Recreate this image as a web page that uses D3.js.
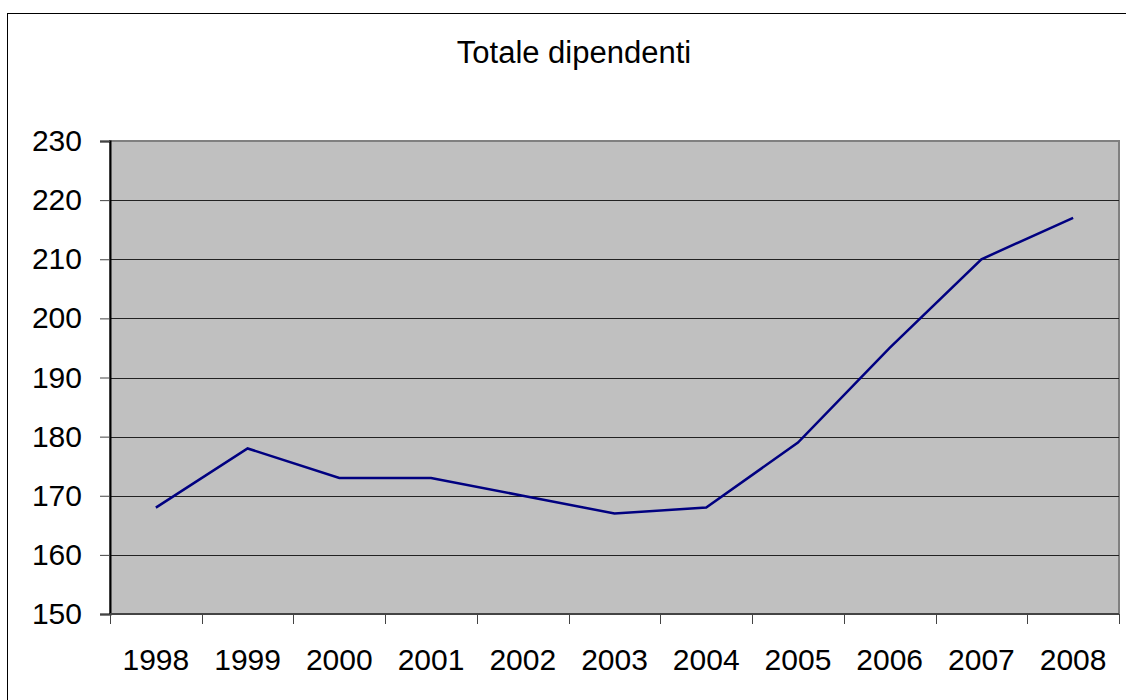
<!DOCTYPE html>
<html>
<head>
<meta charset="utf-8">
<script src="https://cdn.jsdelivr.net/npm/d3@7"></script>
<style>
  html, body { margin: 0; padding: 0; background: #fff; }
  svg { display: block; }
  text { font-family: "Liberation Sans", Arial, sans-serif; fill: #000; }
</style>
</head>
<body>
<svg id="chart" width="1126" height="700"></svg>
<script>
// Employee totals per year
const years = ["1998", "1999", "2000", "2001", "2002", "2003", "2004", "2005", "2006", "2007", "2008"];
const employees = [168, 178, 173, 173, 170, 167, 168, 179, 195, 210, 217];
const yTicks = [150, 160, 170, 180, 190, 200, 210, 220, 230];
const chartTitle = "Totale dipendenti";

const svg = d3.select("#chart");
const W = 1126, H = 700;
const plot = { left: 110, top: 141, right: 1119, bottom: 614 };
const labelSize = "30px";

// Outer chart frame
svg.append("rect")
  .attr("x", 7.5).attr("y", 13.5)
  .attr("width", W + 10).attr("height", H + 10)
  .attr("fill", "#fff").attr("stroke", "#000").attr("stroke-width", 1);

const x = d3.scaleBand().domain(years).range([plot.left, plot.right]);
const y = d3.scaleLinear().domain([150, 230]).range([plot.bottom, plot.top]);

// Plot area background
svg.append("rect")
  .attr("x", plot.left).attr("y", plot.top)
  .attr("width", plot.right - plot.left).attr("height", plot.bottom - plot.top)
  .attr("fill", "#c0c0c0")
  .attr("stroke", "#808080").attr("stroke-width", 2);

// Horizontal gridlines
svg.append("g")
  .selectAll("line")
  .data(yTicks.filter(t => t !== 150 && t !== 230))
  .join("line")
  .attr("x1", plot.left).attr("x2", plot.right)
  .attr("y1", d => Math.round(y(d)) + 0.5).attr("y2", d => Math.round(y(d)) + 0.5)
  .attr("stroke", "#222").attr("stroke-width", 1);

// Y axis
const yAxis = d3.axisLeft(y).tickValues(yTicks).tickSize(10).tickPadding(18);
const gy = svg.append("g")
  .attr("transform", `translate(${plot.left},0)`)
  .call(yAxis);
gy.select(".domain").attr("stroke", "#000").attr("stroke-width", 2);
gy.selectAll(".tick line").attr("stroke", "#444");
gy.selectAll(".tick text")
  .style("font-family", "'Liberation Sans', Arial, sans-serif")
  .style("font-size", labelSize).attr("fill", "#000");

// X axis with ticks at category boundaries
const gx = svg.append("g")
  .attr("transform", `translate(0,${plot.bottom})`);
gx.append("line")
  .attr("x1", plot.left).attr("x2", plot.right)
  .attr("y1", 0).attr("y2", 0)
  .attr("stroke", "#444").attr("stroke-width", 2);
const boundaries = years.map(d => x(d)).concat([plot.right]);
gx.selectAll("line.tk")
  .data(boundaries)
  .join("line")
  .attr("class", "tk")
  .attr("x1", d => Math.round(d) + 0.5).attr("x2", d => Math.round(d) + 0.5)
  .attr("y1", 0).attr("y2", 10)
  .attr("stroke", "#444").attr("stroke-width", 1);
gx.selectAll("text")
  .data(years)
  .join("text")
  .attr("x", d => x(d) + x.bandwidth() / 2)
  .attr("y", 56)
  .attr("text-anchor", "middle")
  .style("font-size", labelSize)
  .text(d => d);

// Data line
const line = d3.line()
  .x((d, i) => x(years[i]) + x.bandwidth() / 2)
  .y(d => y(d));
svg.append("path")
  .datum(employees)
  .attr("d", line)
  .attr("fill", "none")
  .attr("stroke", "#000080")
  .attr("stroke-width", 2.5)
  .attr("stroke-linejoin", "miter");

// Title
svg.append("text")
  .attr("x", 574).attr("y", 63)
  .attr("text-anchor", "middle")
  .style("font-size", "31px")
  .text(chartTitle);
</script>
</body>
</html>
